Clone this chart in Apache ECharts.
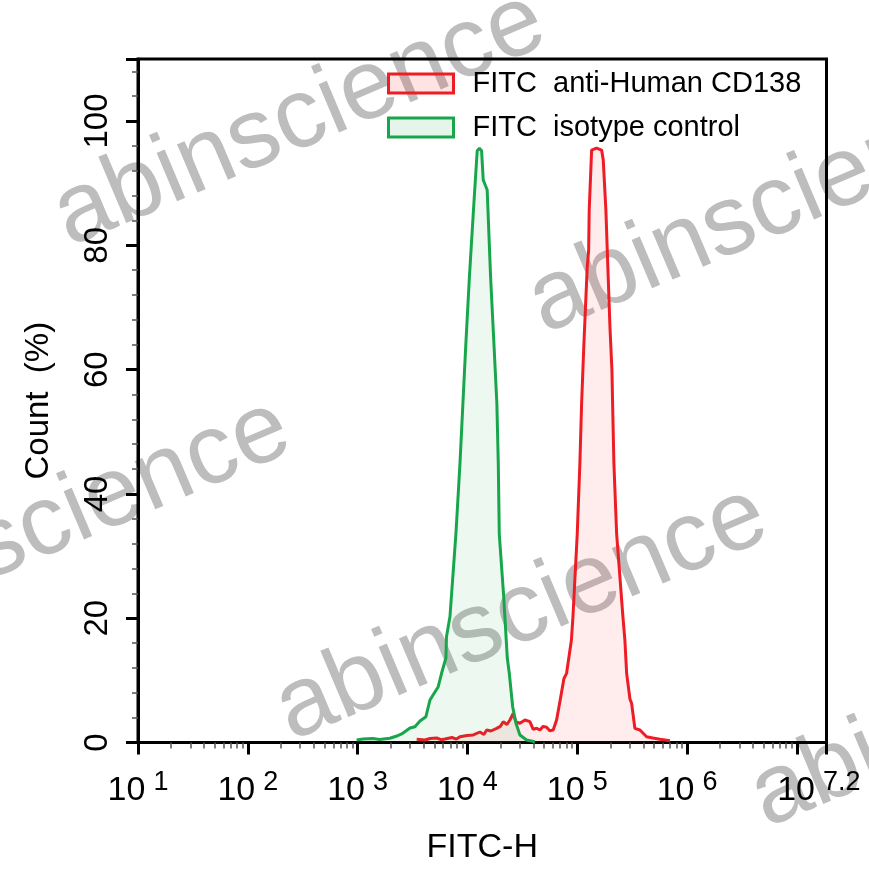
<!DOCTYPE html>
<html><head><meta charset="utf-8">
<script src="https://cdn.jsdelivr.net/npm/echarts@6/dist/echarts.min.js"></script>
<style>html,body{margin:0;padding:0;background:#fff}#c{width:869px;height:878px}</style>
</head><body><div id="c"></div>
<script>
const FONT = '"Liberation Sans", Arial, Helvetica, sans-serif';

// ---- data (x = log10 of FITC-H, y = Count %) ----
const seriesNames = ['FITC  anti-Human CD138', 'FITC  isotype control'];
const xLabelExps = [1, 2, 3, 4, 5, 6, 7.2];
const yLabelValues = [0, 20, 40, 60, 80, 100];
const yMinorValues = [4,8,12,16,24,28,32,36,44,48,52,56,64,68,72,76,84,88,92,96,104,108];
const minorDecades = [1, 2, 3, 4, 5, 6];
const minorMultipliers = [2, 3, 4, 5, 6, 7, 8, 9];

const cdExp = [3.538,3.613,3.660,3.720,3.760,3.795,3.859,3.900,3.932,3.996,4.053,4.114,4.150,4.175,4.214,4.266,4.300,4.326,4.360,4.387,4.417,4.442,4.478,4.524,4.569,4.599,4.630,4.660,4.690,4.721,4.750,4.781,4.812,4.842,4.879,4.903,4.947,4.961,5.000,5.024,5.040,5.061,5.091,5.104,5.109,5.131,5.176,5.222,5.237,5.261,5.282,5.298,5.316,5.322,5.334,5.359,5.416,5.434,5.450,5.480,5.495,5.525,5.571,5.632,5.689,5.753,5.844];
const cdCount = [0.51,0.40,0.65,0.72,0.45,0.56,0.80,0.55,0.93,1.13,1.21,1.69,1.30,2.01,1.85,2.28,2.60,3.35,2.90,3.62,4.70,3.30,3.09,3.62,3.35,2.12,2.30,2.01,2.60,2.45,1.90,2.01,3.62,6.56,10.30,11.13,16.49,20.27,33.55,44.88,54.63,64.28,76.51,79.24,85.68,95.33,95.66,95.33,93.72,85.68,74.90,66.85,59.94,54.63,44.88,33.55,20.27,16.49,11.13,7.00,6.31,2.28,2.01,0.93,0.72,0.51,0.29];

const isoExp = [2.991,3.050,3.140,3.200,3.294,3.350,3.401,3.477,3.522,3.568,3.622,3.659,3.734,3.765,3.804,3.809,3.841,3.895,3.932,3.959,3.986,4.018,4.059,4.089,4.109,4.129,4.144,4.180,4.211,4.241,4.268,4.281,4.290,4.330,4.363,4.381,4.412,4.442,4.478,4.539,4.615];
const isoCount = [0.40,0.55,0.66,0.50,0.68,1.00,1.37,2.33,2.54,3.46,4.15,6.84,8.98,11.18,13.60,16.98,20.27,33.55,44.88,54.63,64.28,74.90,86.81,95.22,95.60,95.22,90.51,88.90,74.90,64.28,54.63,44.88,33.55,23.57,13.60,11.18,5.76,3.09,1.21,0.40,0.13];

// ---- build ----
const pairs = (xs, ys) => xs.map((x, i) => [x, ys[i]]);
const xMinorValues = [];
minorDecades.forEach(d => minorMultipliers.forEach(k => xMinorValues.push(d + Math.log10(k))));

const RED = '#ee1c24', RED_FILL = 'rgba(255,40,40,0.13)';
const GREEN = '#18a64c', GREEN_FILL = 'rgba(20,165,80,0.11)';

const wmAngle = 23 * Math.PI / 180;
const wmBase = [[70, 248], [545, 335], [-185, 655], [292, 742], [767, 829]];
const wmOff = 21;
const watermarks = wmBase.map(p => ({
  type: 'text', z: -5, silent: true,
  x: p[0] + wmOff * Math.sin(wmAngle), y: p[1] + wmOff * Math.cos(wmAngle),
  rotation: wmAngle,
  style: { text: 'abinscience', fontSize: 99, fontFamily: FONT, fill: '#bdbdbd', align: 'left', verticalAlign: 'bottom' }
}));

const chart = echarts.init(document.getElementById('c'), null, { renderer: 'canvas' });
chart.setOption({
  backgroundColor: '#fff',
  animation: false,
  graphic: { elements: watermarks },
  grid: { left: 138, right: 42.5, top: 58.9, bottom: 135.5, show: true, borderColor: '#000', borderWidth: 3, backgroundColor: 'transparent', containLabel: false },
  legend: {
    orient: 'vertical', left: 387, top: 68.5, padding: 0,
    itemWidth: 65, itemHeight: 19, itemGap: 14, selectedMode: false,
    textStyle: { fontSize: 29, fontFamily: FONT, color: '#000', lineHeight: 30, padding: [0, 0, 0, 14] },
    data: [
      { name: seriesNames[0], icon: 'rect', itemStyle: { color: 'rgba(255,40,40,0.13)', borderColor: RED, borderWidth: 3 } },
      { name: seriesNames[1], icon: 'rect', itemStyle: { color: 'rgba(20,165,80,0.11)', borderColor: GREEN, borderWidth: 3 } }
    ]
  },
  xAxis: [{
    type: 'value', min: 1, max: 7.27, interval: 1, position: 'bottom',
    name: 'FITC-H', nameLocation: 'middle', nameGap: 88,
    nameTextStyle: { fontSize: 34, fontFamily: FONT, color: '#000' },
    axisLine: { show: true, onZero: false, lineStyle: { color: '#000', width: 3 } },
    axisTick: { show: true, inside: false, length: 12, lineStyle: { color: '#000', width: 3 } },
    splitLine: { show: false },
    axisLabel: {
      customValues: xLabelExps, margin: 27,
      formatter: v => '{b|10}{s|' + (Number.isInteger(v) ? String(v) : v.toFixed(1)) + '}',
      rich: {
        b: { fontSize: 34, fontFamily: FONT, color: '#000', lineHeight: 34 },
        s: { fontSize: 27, fontFamily: FONT, color: '#000', padding: [0, 0, 16, 8] }
      }
    }
  }, {
    type: 'value', min: 1, max: 7.27, position: 'bottom',
    axisLine: { show: false, onZero: false }, axisLabel: { show: false }, splitLine: { show: false },
    axisTick: { show: true, customValues: xMinorValues, length: 6, lineStyle: { color: '#555', width: 1.5 } }
  }],
  yAxis: [{
    type: 'value', min: 0, max: 110, interval: 20, position: 'left',
    name: 'Count  (%)', nameLocation: 'middle', nameGap: 83, nameRotate: 90,
    nameTextStyle: { fontSize: 33, fontFamily: FONT, color: '#000' },
    axisLine: { show: true, onZero: false, lineStyle: { color: '#000', width: 3 } },
    axisTick: { show: true, length: 12, lineStyle: { color: '#000', width: 3 } },
    splitLine: { show: false },
    axisLabel: { customValues: yLabelValues, rotate: 90, margin: 24, fontSize: 33, fontFamily: FONT, color: '#000' }
  }, {
    type: 'value', min: 0, max: 110, position: 'left',
    axisLine: { show: false, onZero: false }, axisLabel: { show: false }, splitLine: { show: false },
    axisTick: { show: true, customValues: yMinorValues, length: 6, lineStyle: { color: '#555', width: 1.5 } }
  }],
  series: [{
    name: seriesNames[0], type: 'line', data: pairs(cdExp, cdCount), showSymbol: false, symbol: 'none',
    lineStyle: { color: RED, width: 3 }, itemStyle: { color: RED }, areaStyle: { color: RED_FILL }, z: 3
  }, {
    name: seriesNames[1], type: 'line', data: pairs(isoExp, isoCount), showSymbol: false, symbol: 'none',
    lineStyle: { color: GREEN, width: 3 }, itemStyle: { color: GREEN }, areaStyle: { color: GREEN_FILL }, z: 4
  }]
});
</script></body></html>
